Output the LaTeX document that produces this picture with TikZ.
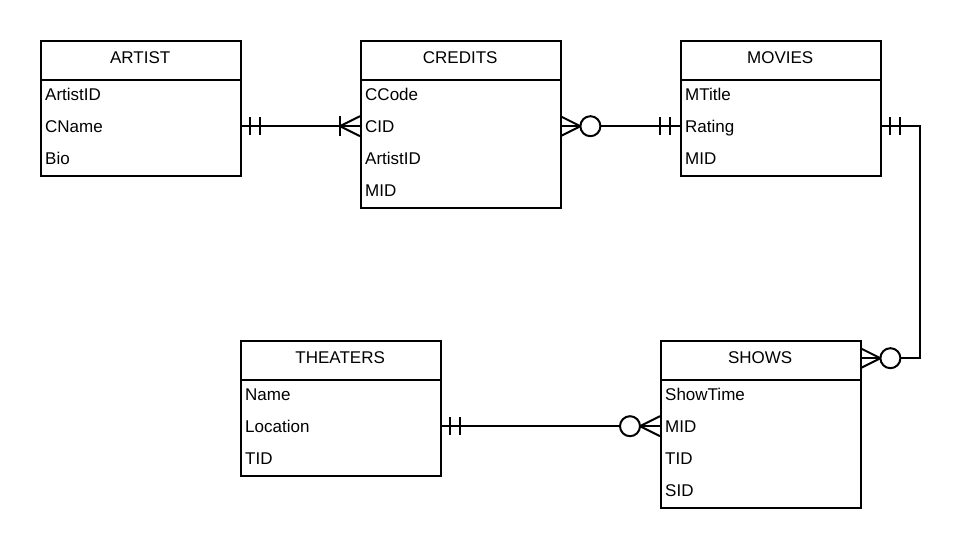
\documentclass[tikz,border=0pt]{standalone}
\usepackage{fontspec}
\setmainfont{Liberation Sans}
\usetikzlibrary{calc}
\begin{document}
\begin{tikzpicture}[x=1bp,y=-1bp,
  ln/.style={line width=2bp},
  box/.style={draw, line width=2bp, fill=white, anchor=north west, minimum width=200bp, inner sep=0pt},
  hdr/.style={anchor=north west, minimum height=35bp, text width=200bp, inner sep=0pt, align=center, text height=12.2bp, text depth=0pt, font=\fontsize{17bp}{20bp}\selectfont},
  row/.style={anchor=north west, minimum height=32bp, text width=190bp, inner xsep=5bp, inner ysep=0pt, align=left, text height=12.2bp, text depth=0pt, font=\fontsize{17bp}{20bp}\selectfont},
  circ/.style={draw, line width=2bp, fill=white, circle, minimum size=20bp, inner sep=0pt}]
\useasboundingbox (0,0) rectangle (960,548);

% ARTIST
\node[box, minimum height=135bp] (artist) at (40,40) {};
\node[hdr] (artist-hdr) at (40,40) {ARTIST};
\draw[ln] ($(artist-hdr.south west)+(0,5)$) -- ($(artist-hdr.south east)+(0,5)$);
\node[row] (artist-id) at (40,78) {ArtistID};
\node[row] (artist-cname) at (40,110) {CName};
\node[row] (artist-bio) at (40,142) {Bio};

% CREDITS
\node[box, minimum height=167bp] (credits) at (360,40) {};
\node[hdr] (credits-hdr) at (360,40) {CREDITS};
\draw[ln] ($(credits-hdr.south west)+(0,5)$) -- ($(credits-hdr.south east)+(0,5)$);
\node[row] (credits-ccode) at (360,78) {CCode};
\node[row] (credits-cid) at (360,110) {CID};
\node[row] (credits-aid) at (360,142) {ArtistID};
\node[row] (credits-mid) at (360,174) {MID};

% MOVIES
\node[box, minimum height=135bp] (movies) at (680,40) {};
\node[hdr] (movies-hdr) at (680,40) {MOVIES};
\draw[ln] ($(movies-hdr.south west)+(0,5)$) -- ($(movies-hdr.south east)+(0,5)$);
\node[row] (movies-title) at (680,78) {MTitle};
\node[row] (movies-rating) at (680,110) {Rating};
\node[row] (movies-mid) at (680,142) {MID};

% THEATERS
\node[box, minimum height=135bp] (theaters) at (240,340) {};
\node[hdr] (theaters-hdr) at (240,340) {THEATERS};
\draw[ln] ($(theaters-hdr.south west)+(0,5)$) -- ($(theaters-hdr.south east)+(0,5)$);
\node[row] (theaters-name) at (240,378) {Name};
\node[row] (theaters-loc) at (240,410) {Location};
\node[row] (theaters-tid) at (240,442) {TID};

% SHOWS
\node[box, minimum height=167bp] (shows) at (660,340) {};
\node[hdr] (shows-hdr) at (660,340) {SHOWS};
\draw[ln] ($(shows-hdr.south west)+(0,5)$) -- ($(shows-hdr.south east)+(0,5)$);
\node[row] (shows-time) at (660,378) {ShowTime};
\node[row] (shows-mid) at (660,410) {MID};
\node[row] (shows-tid) at (660,442) {TID};
\node[row] (shows-sid) at (660,474) {SID};

% ARTIST -- CREDITS (one and only one -- one or many)
\draw[ln] (artist-cname.east) -- (credits-cid.west);
\draw[ln] ($(artist-cname.east)+(10,-9)$) -- ++(0,18);
\draw[ln] ($(artist-cname.east)+(20,-9)$) -- ++(0,18);
\draw[ln] ($(credits-cid.west)+(-20,-10)$) -- ++(0,20);
\draw[ln] ($(credits-cid.west)+(0,-10)$) -- ($(credits-cid.west)+(-20,0)$) -- ($(credits-cid.west)+(0,10)$);

% CREDITS -- MOVIES (zero or many -- one and only one)
\draw[ln] (credits-cid.east) -- (movies-rating.west);
\draw[ln] ($(credits-cid.east)+(0,-10)$) -- ($(credits-cid.east)+(20,0)$) -- ($(credits-cid.east)+(0,10)$);
\node[circ] (c1) at ($(credits-cid.east)+(30,0)$) {};
\draw[ln] ($(movies-rating.west)+(-10,-9)$) -- ++(0,18);
\draw[ln] ($(movies-rating.west)+(-20,-9)$) -- ++(0,18);

% MOVIES -- SHOWS
\coordinate (bend) at ($(movies-rating.east)+(40,0)$);
\draw[ln] (movies-rating.east) -- (bend) |- ($(shows-hdr.east)+(0,0.5)$);
\draw[ln] ($(movies-rating.east)+(10,-9)$) -- ++(0,18);
\draw[ln] ($(movies-rating.east)+(20,-9)$) -- ++(0,18);
\draw[ln] ($(shows-hdr.east)+(0,-9.5)$) -- ($(shows-hdr.east)+(20,0.5)$) -- ($(shows-hdr.east)+(0,10.5)$);
\node[circ] (c2) at ($(shows-hdr.east)+(30,0.5)$) {};

% THEATERS -- SHOWS
\draw[ln] (theaters-loc.east) -- (shows-mid.west);
\draw[ln] ($(theaters-loc.east)+(10,-9)$) -- ++(0,18);
\draw[ln] ($(theaters-loc.east)+(20,-9)$) -- ++(0,18);
\draw[ln] ($(shows-mid.west)+(0,-10)$) -- ($(shows-mid.west)+(-20,0)$) -- ($(shows-mid.west)+(0,10)$);
\node[circ] (c3) at ($(shows-mid.west)+(-30,0)$) {};
\end{tikzpicture}
\end{document}
